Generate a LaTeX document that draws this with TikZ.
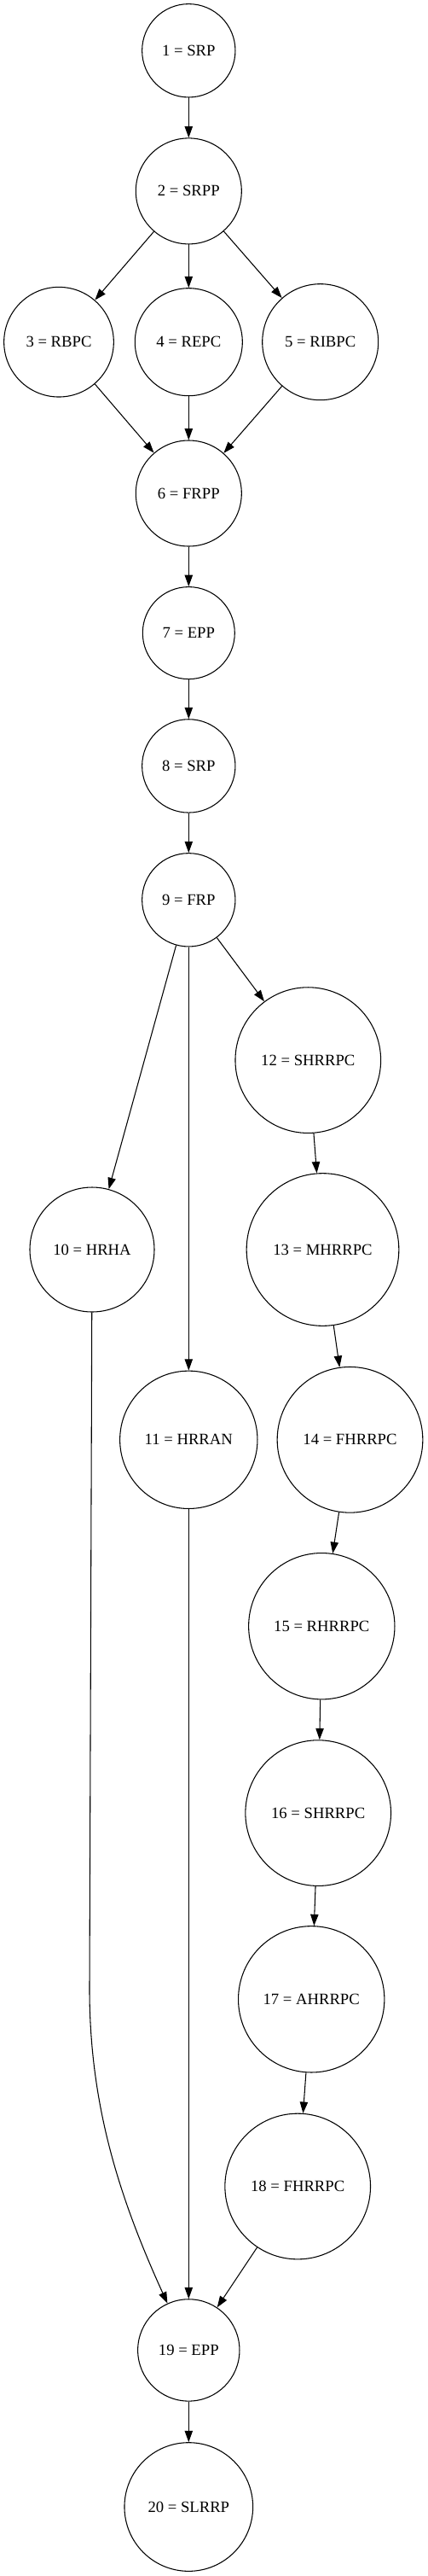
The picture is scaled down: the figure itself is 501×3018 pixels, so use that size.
\documentclass[tikz,border=0pt]{standalone}
\usepackage{fontspec}
\setmainfont{Liberation Serif}
\usetikzlibrary{arrows.meta}
\begin{document}
\begin{tikzpicture}[x=0.75pt,y=-0.75pt,line width=0.8pt,
  phase/.style={draw,circle,inner sep=0pt,minimum size=#1,font=\fontsize{14}{16}\selectfont},
  flow/.style={-{Triangle[length=10pt,width=7pt]}}]
\useasboundingbox (0,0) rectangle (501,3018);
%Upper part
\node [phase=82pt] (n1) at (221.3,59.3) {1 = SRP};
\node [phase=93pt] (n2) at (221.3,223.9) {2 = SRPP};
\node [phase=96.5pt] (n3) at (69,400.7) {3 = RBPC};
\node [phase=94.5pt] (n4) at (221.3,400.7) {4 = REPC};
\node [phase=102pt] (n5) at (375.7,400.7) {5 = RIBPC};
\node [phase=93pt] (n6) at (221.3,578) {6 = FRPP};
\node [phase=81pt] (n7) at (221.3,741.6) {7 = EPP};
\node [phase=82pt] (n8) at (221.3,897.4) {8 = SRP};
\node [phase=82pt] (n9) at (221.3,1054.3) {9 = FRP};
%Three branches
\node [phase=109.5pt] (n10) at (108,1464) {10 = HRHA};
\node [phase=121pt] (n11) at (221.3,1686.8) {11 = HRRAN};
\node [phase=128pt] (n12) at (361.3,1242.1) {12 = SHRRPC};
\node [phase=134pt] (n13) at (378.5,1464) {13 = MHRRPC};
\node [phase=128pt] (n14) at (410.5,1686.8) {14 = FHRRPC};
\node [phase=128.5pt] (n15) at (377.3,1905.2) {15 = RHRRPC};
\node [phase=128pt] (n16) at (373.2,2124.1) {16 = SHRRPC};
\node [phase=128.5pt] (n17) at (365.2,2342.3) {17 = AHRRPC};
\node [phase=128pt] (n18) at (349.2,2561.5) {18 = FHRRPC};
%Lower part
\node [phase=89.5pt] (n19) at (221.3,2753.4) {19 = EPP};
\node [phase=113pt] (n20) at (221.3,2937) {20 = SLRRP};
\coordinate (bend) at (105,2330);
%Arrows
\draw [flow] (n1) -- (n2);
\draw [flow] (n2) -- (n3);
\draw [flow] (n2) -- (n4);
\draw [flow] (n2) -- (n5);
\draw [flow] (n3) -- (n6);
\draw [flow] (n4) -- (n6);
\draw [flow] (n5) -- (n6);
\draw [flow] (n6) -- (n7);
\draw [flow] (n7) -- (n8);
\draw [flow] (n8) -- (n9);
\draw [flow] (n9) -- (n10);
\draw [flow] (n9) -- (n11);
\draw [flow] (n9) -- (n12);
\draw [flow] (n12) -- (n13);
\draw [flow] (n13) -- (n14);
\draw [flow] (n14) -- (n15);
\draw [flow] (n15) -- (n16);
\draw [flow] (n16) -- (n17);
\draw [flow] (n17) -- (n18);
\draw [flow] (n10) -- (bend) .. controls (105,2470) and (142,2579) .. (n19);
\draw [flow] (n11) -- (n19);
\draw [flow] (n18) -- (n19);
\draw [flow] (n19) -- (n20);
\end{tikzpicture}
\end{document}
